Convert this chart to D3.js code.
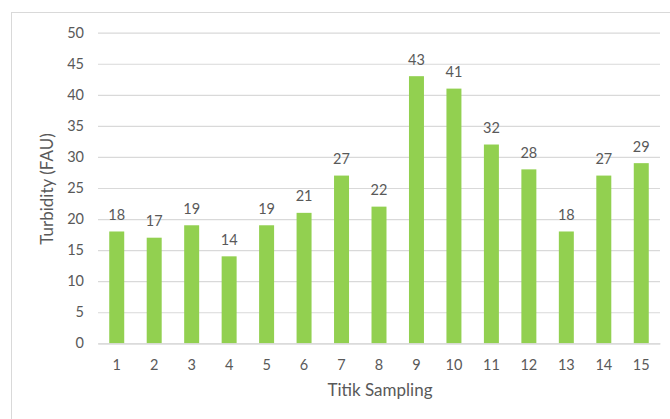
<!DOCTYPE html>
<html><head><meta charset="utf-8">
<script src="https://cdn.jsdelivr.net/npm/d3@7"></script>
<style>
html,body{margin:0;padding:0;background:#fff;}
svg{display:block;}
text{font-family:Lato, "Open Sans", sans-serif;fill:#595959;}
</style></head>
<body>
<script>
const categories = ["1","2","3","4","5","6","7","8","9","10","11","12","13","14","15"];
const values = [18,17,19,14,19,21,27,22,43,41,32,28,18,27,29];
const yTicks = [0,5,10,15,20,25,30,35,40,45,50];
const xTitle = "Titik Sampling";
const yTitle = "Turbidity (FAU)";

const W = 670, H = 419;
const svg = d3.select("body").append("svg").attr("width", W).attr("height", H);

// outer frame
svg.append("rect").attr("x", 11.5).attr("y", 12.5).attr("width", 700).attr("height", 500)
  .attr("fill", "none").attr("stroke", "#d9d9d9").attr("stroke-width", 1);

const x = d3.scaleBand().domain(categories).range([98, 660]).paddingInner(0.6).paddingOuter(0.3);
const y = d3.scaleLinear().domain([0, 50]).range([343.3, 32.7]);

// gridlines
const yAxis = d3.axisLeft(y).tickValues(yTicks).tickSize(-(660 - 98)).tickPadding(14);
const gy = svg.append("g").attr("transform", "translate(98,0)").call(yAxis);
gy.select(".domain").remove();
gy.selectAll(".tick line").attr("stroke", "#d9d9d9").attr("stroke-width", 1.2);
gy.selectAll(".tick text").attr("fill", "#595959").style("font-size", "14.5px").attr("x", -14);

// bars
svg.append("g").selectAll("rect").data(values).join("rect")
  .attr("x", (d, i) => x(categories[i]))
  .attr("y", d => y(d))
  .attr("width", x.bandwidth())
  .attr("height", d => y(0) - y(d))
  .attr("fill", "#92d050");

// x axis
const xAxis = d3.axisBottom(x).tickSize(0).tickPadding(16);
const gx = svg.append("g").attr("transform", `translate(0,${y(0)})`).call(xAxis);
gx.select(".domain").attr("stroke", "#d9d9d9").attr("stroke-width", 1.2);
gx.selectAll(".tick text").attr("fill", "#595959").style("font-size", "14.5px");

// data labels
svg.append("g").selectAll("text").data(values).join("text")
  .attr("x", (d, i) => x(categories[i]) + x.bandwidth() / 2)
  .attr("y", d => y(d) - 11.5)
  .attr("text-anchor", "middle")
  .style("font-size", "14.5px")
  .text(d => d);

// axis titles
svg.append("text").attr("x", 380).attr("y", 396).attr("text-anchor", "middle")
  .style("font-size", "17px").text(xTitle);
svg.append("text").attr("transform", "translate(53,189) rotate(-90)").attr("text-anchor", "middle")
  .style("font-size", "17px").text(yTitle);
</script>
</body></html>
